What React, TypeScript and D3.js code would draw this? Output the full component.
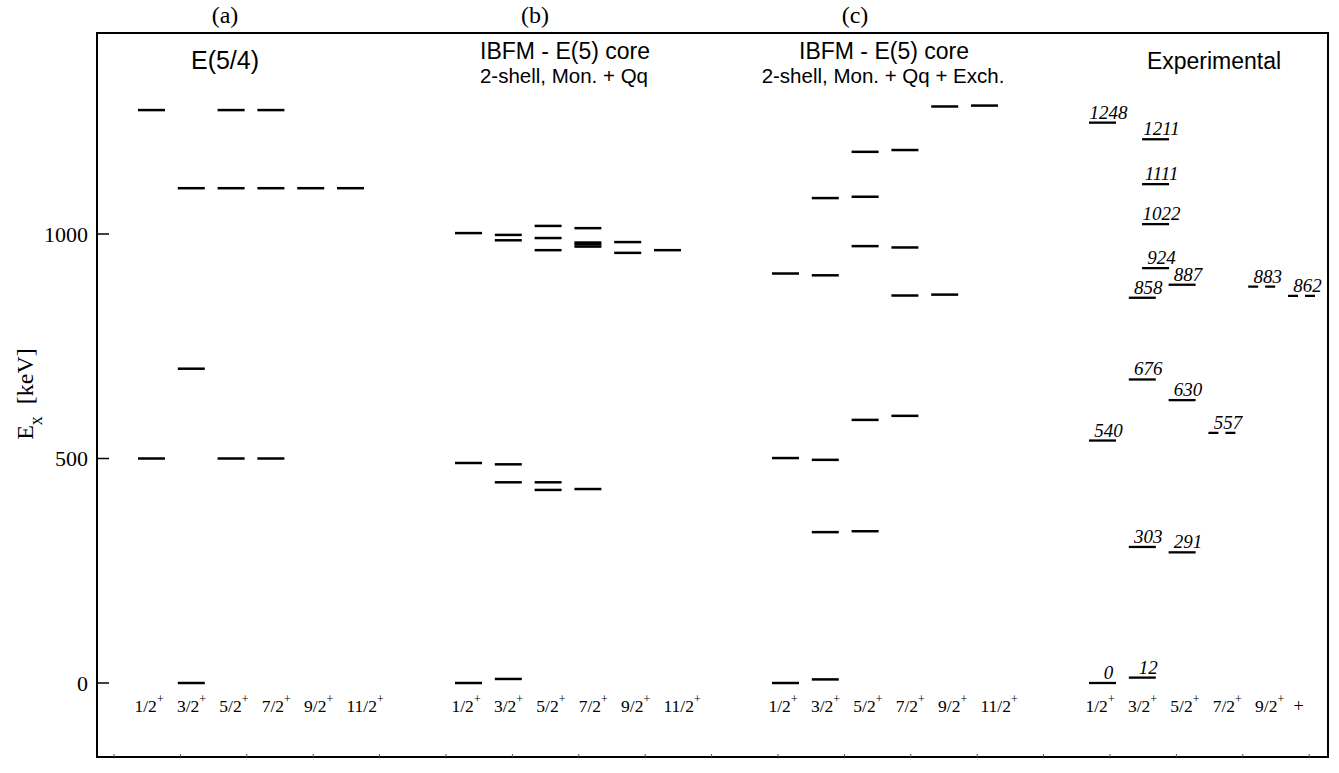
import React from "react";
import * as d3 from "d3";

// ---------- data ----------
const panelKeys = ["a", "b", "c", "exp"];
const panelLetters = ["(a)", "(b)", "(c)", ""];
const panelTitles = ["E(5/4)", "IBFM - E(5) core", "IBFM - E(5) core", "Experimental"];
const panelSubtitles = ["", "2-shell, Mon. + Qq", "2-shell, Mon. + Qq + Exch.", ""];

const spins = ["1/2", "3/2", "5/2", "7/2", "9/2", "11/2"];
const expSpinLabels = ["1/2", "3/2", "5/2", "7/2", "9/2", ""];

const yTicks = [0, 500, 1000];

// levels: [spin, energy keV]
const levelsA: [string, number][] = [
  ["1/2", 500], ["1/2", 1276],
  ["3/2", 0], ["3/2", 700], ["3/2", 1102],
  ["5/2", 500], ["5/2", 1102], ["5/2", 1276],
  ["7/2", 500], ["7/2", 1102], ["7/2", 1276],
  ["9/2", 1102],
  ["11/2", 1102],
];

const levelsB: [string, number][] = [
  ["1/2", 0], ["1/2", 490], ["1/2", 1002],
  ["3/2", 9], ["3/2", 447], ["3/2", 487], ["3/2", 986], ["3/2", 998],
  ["5/2", 430], ["5/2", 447], ["5/2", 964], ["5/2", 991], ["5/2", 1018],
  ["7/2", 432], ["7/2", 972], ["7/2", 977], ["7/2", 981], ["7/2", 1013],
  ["9/2", 958], ["9/2", 982],
  ["11/2", 964],
];

const levelsC: [string, number][] = [
  ["1/2", 0], ["1/2", 501], ["1/2", 912],
  ["3/2", 8], ["3/2", 336], ["3/2", 497], ["3/2", 908], ["3/2", 1080],
  ["5/2", 338], ["5/2", 586], ["5/2", 973], ["5/2", 1083], ["5/2", 1183],
  ["7/2", 595], ["7/2", 863], ["7/2", 970], ["7/2", 1187],
  ["9/2", 865], ["9/2", 1284],
  ["11/2", 1286],
];

// experimental levels
const expEnergies = [0, 540, 1248, 12, 303, 676, 858, 924, 1022, 1111, 1211, 291, 630, 887, 557, 883, 862];
const expSpinOf = ["1/2", "1/2", "1/2", "3/2", "3/2", "3/2", "3/2", "3/2,5/2", "3/2,5/2", "3/2,5/2", "3/2,5/2", "5/2", "5/2", "5/2", "7/2", "9/2", "11/2"];
const expTentative = [false, false, false, false, false, false, false, false, false, false, false, false, false, false, true, true, true];

// ---------- layout ----------
const W = 1339, H = 773;
const frame = { left: 97, right: 1328, top: 33, bottom: 757 };
const levelW = 27;

export default function App() {
  const y = d3.scaleLinear().domain([0, 1000]).range([683, 234]);
  const panelX = d3.scalePoint<string>().domain(panelKeys).range([151.5, 1102.5]);
  const spinX = d3.scalePoint<string>().domain(spins).range([0, 199]);
  const labelX = d3.scalePoint<string>().domain(spins).range([-17, 195]);
  const bottomTicks = d3.range(114, 1320, 66.4);
  const expX = (s: string) => {
    if (s === "3/2,5/2") return (spinX("3/2")! * 2 + spinX("5/2")!) / 3;
    return spinX(s)!;
  };

  const panels = [levelsA, levelsB, levelsC];
  const serif = "'Liberation Serif', 'Times New Roman', serif";
  const sans = "'Liberation Sans', Arial, Helvetica, sans-serif";
  const letterX = [225, 535, 855];
  const titleX = [225, 565, 884, 1214];

  return (
    <svg width={W} height={H} style={{ position: "absolute", left: 0, top: 0, background: "#fff" }}>
      {/* frame */}
      <rect x={frame.left} y={frame.top} width={frame.right - frame.left} height={frame.bottom - frame.top}
        fill="none" stroke="#000" strokeWidth={2} />
      {bottomTicks.map((t, i) => (
        <line key={i} x1={t} x2={t} y1={frame.bottom} y2={frame.bottom - 3} stroke="#555" strokeWidth={1} />
      ))}
      {/* y ticks */}
      {yTicks.map((t) => (
        <g key={t}>
          <line x1={frame.left} x2={frame.left + 12} y1={y(t)} y2={y(t)} stroke="#000" strokeWidth={1.5} />
          <text x={88} y={y(t)} dy="0.35em" textAnchor="end" fontFamily={serif} fontSize={22}>{t}</text>
        </g>
      ))}
      {/* y label */}
      <text transform={`translate(33,394) rotate(-90)`} textAnchor="middle" fontFamily={serif} fontSize={24}>
        <tspan>E</tspan>
        <tspan fontSize={18} dy={9}>x</tspan>
        <tspan dy={-9} xmlSpace="preserve">{"  [keV]"}</tspan>
      </text>

      {panelKeys.map((k, pi) => {
        const px = panelX(k)!;
        return (
          <g key={k}>
            {panelLetters[pi] && (
              <text x={letterX[pi]} y={23} textAnchor="middle" fontFamily={serif} fontSize={24}>
                {panelLetters[pi]}
              </text>
            )}
            <text x={titleX[pi]} y={panelSubtitles[pi] ? 59 : 69} textAnchor="middle" fontFamily={sans} fontSize={pi === 0 ? 25 : 23}>
              {panelTitles[pi]}
            </text>
            {panelSubtitles[pi] && (
              <text x={titleX[pi] - 1} y={83} textAnchor="middle" fontFamily={sans} fontSize={20.5}>
                {panelSubtitles[pi]}
              </text>
            )}
            {/* spin labels */}
            {(pi === 3 ? expSpinLabels : spins).map((s, si) => {
              const lx = px + labelX(spins[si])!;
              if (pi === 3 && si === 5) {
                return (
                  <text key={si} x={lx - 4} y={712} fontFamily={serif} fontSize={18}>+</text>
                );
              }
              return (
                <text key={si} x={lx} y={712} fontFamily={serif} fontSize={17.5}>
                  {s}
                  <tspan fontSize={12} dy={-9}>+</tspan>
                </text>
              );
            })}
          </g>
        );
      })}

      {/* theory levels */}
      {panels.map((lv, pi) => {
        const px = panelX(panelKeys[pi])!;
        return (
          <g key={pi}>
            {lv.map(([s, e], i) => {
              const x = px + spinX(s)!;
              return (
                <line key={i} x1={x - levelW / 2} x2={x + levelW / 2} y1={y(e)} y2={y(e)} stroke="#000" strokeWidth={2.5} />
              );
            })}
          </g>
        );
      })}

      {/* experimental levels */}
      {expEnergies.map((e, i) => {
        const x = panelX("exp")! + expX(expSpinOf[i]);
        return (
          <g key={i}>
            <line x1={x - levelW / 2} x2={x + levelW / 2} y1={y(e)} y2={y(e)} stroke="#000" strokeWidth={2.3}
              strokeDasharray={expTentative[i] ? "10,7" : undefined} />
            <text x={x + 6} y={y(e) - 4} textAnchor="middle" fontFamily={serif} fontStyle="italic" fontSize={19}>
              {e}
            </text>
          </g>
        );
      })}
    </svg>
  );
}
